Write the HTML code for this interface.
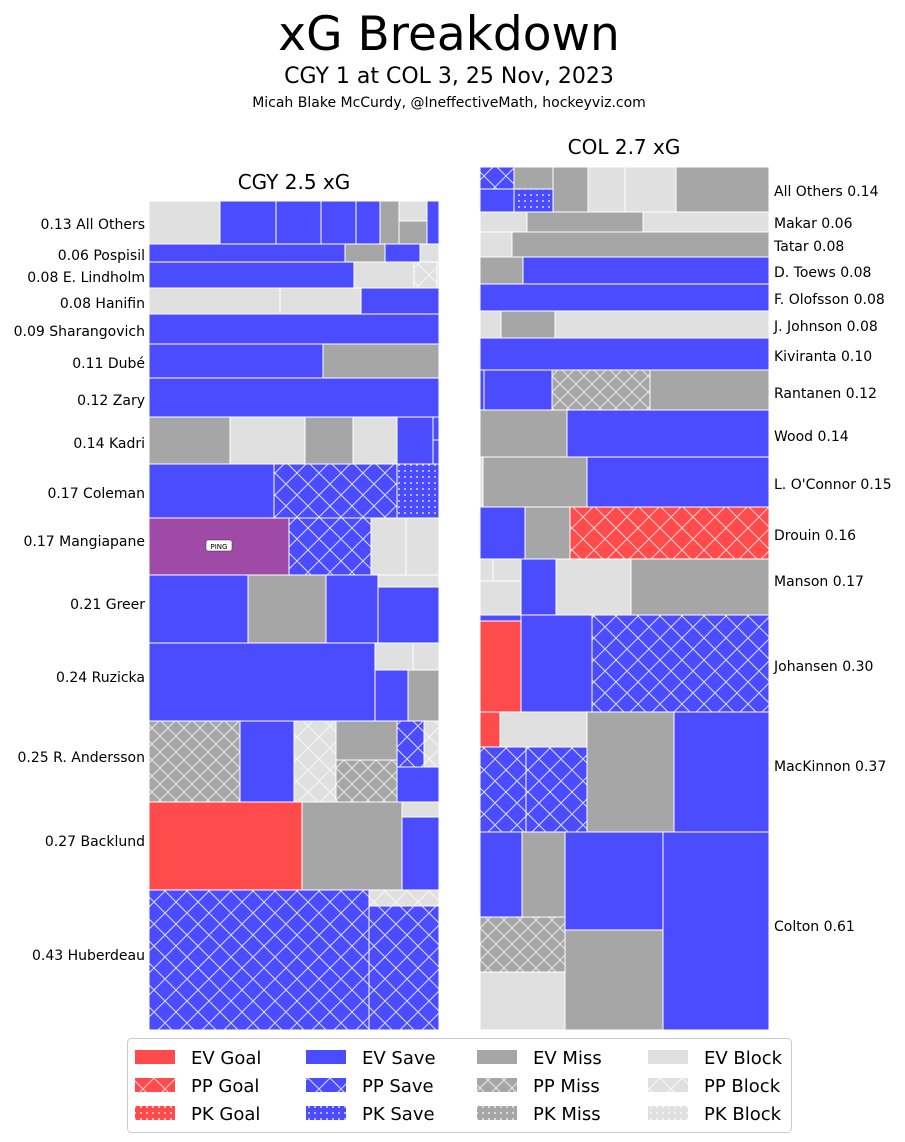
<!DOCTYPE html>
<html><head><meta charset="utf-8"><style>
html,body{margin:0;padding:0;background:#fff}
svg{display:block;font-family:"DejaVu Sans","Liberation Sans",sans-serif}
</style></head><body>
<svg id="s" width="905" height="1142" viewBox="0 0 905 1142" xmlns="http://www.w3.org/2000/svg">
<defs>
<pattern id="ppB" width="22" height="22" patternUnits="userSpaceOnUse"><rect width="22" height="22" fill="#4b4bff"/><path d="M0 0L22 22M22 0L0 22" stroke="#dcdcff" stroke-width="1"/></pattern>
<pattern id="ppR" width="22" height="22" patternUnits="userSpaceOnUse"><rect width="22" height="22" fill="#ff4b4b"/><path d="M0 0L22 22M22 0L0 22" stroke="#ffd0d0" stroke-width="1"/></pattern>
<pattern id="ppG" width="16" height="16" patternUnits="userSpaceOnUse"><rect width="16" height="16" fill="#a6a6a6"/><path d="M0 0L16 16M16 0L0 16" stroke="#e0e0e0" stroke-width="1.2"/></pattern>
<pattern id="ppL" width="22" height="22" patternUnits="userSpaceOnUse"><rect width="22" height="22" fill="#e0e0e0"/><path d="M0 0L22 22M22 0L0 22" stroke="#f4f4f4" stroke-width="1.2"/></pattern>
<pattern id="pkB" width="6" height="6" patternUnits="userSpaceOnUse"><rect width="6" height="6" fill="#4b4bff"/><circle cx="3" cy="3" r="0.9" fill="#fff"/></pattern>
<pattern id="pkR" width="6" height="6" patternUnits="userSpaceOnUse"><rect width="6" height="6" fill="#ff4b4b"/><circle cx="3" cy="3" r="0.9" fill="#fff"/></pattern>
<pattern id="pkG" width="6" height="6" patternUnits="userSpaceOnUse"><rect width="6" height="6" fill="#a6a6a6"/><circle cx="3" cy="3" r="0.9" fill="#fff"/></pattern>
<pattern id="pkL" width="6" height="6" patternUnits="userSpaceOnUse"><rect width="6" height="6" fill="#e0e0e0"/><circle cx="3" cy="3" r="0.9" fill="#fff"/></pattern>
</defs>
<text x="449" y="50" font-size="47" text-anchor="middle">xG Breakdown</text>
<text x="449" y="83" font-size="22" text-anchor="middle">CGY 1 at COL 3, 25 Nov, 2023</text>
<text x="449" y="107" font-size="14" text-anchor="middle">Micah Blake McCurdy, @IneffectiveMath, hockeyviz.com</text>
<text x="294" y="189" font-size="20" text-anchor="middle">CGY 2.5 xG</text>
<text x="624" y="154" font-size="20" text-anchor="middle">COL 2.7 xG</text>
<g id="cells" stroke="#fff" stroke-width="1"></g>
<g id="labs" font-size="14"></g>
<rect x="127.5" y="1038.5" width="664" height="94" rx="4" fill="#fff" stroke="#ccc"/>
<g id="leg" font-size="18"></g>
</svg>
<script>
var C={B:"#4b4bff",R:"#ff4b4b",G:"#a6a6a6",L:"#e0e0e0",P:"#a04aa8",b:"url(#ppB)",r:"url(#ppR)",g:"url(#ppG)",l:"url(#ppL)",k:"url(#pkB)",kr:"url(#pkR)",kg:"url(#pkG)",kl:"url(#pkL)"};
var cells=[
["L",149,201,220,244],["B",220,201,276,244],["B",276,201,321,244],["B",321,201,356,244],["B",356,201,380,244],["G",380,201,399,244],["L",399,201,427,221],["G",399,221,427,244],["B",427,201,439,244],
["B",149,244,345,262],["G",345,244,385,262],["B",385,244,420,262],["L",420,244,439,262],
["B",149,262,354,288],["L",354,262,414,288],["l",414,262,437,288],["L",437,262,439,288],
["L",149,288,280,314],["L",280,288,361,314],["B",361,288,439,314],
["B",149,314,439,344],
["B",149,344,323,378],["G",323,344,439,378],
["B",149,378,439,417],
["G",149,417,230,464],["L",230,417,305,464],["G",305,417,353,464],["L",353,417,397,464],["B",397,417,433,464],["B",433,417,439,440],["B",433,440,439,464],
["B",149,464,274,518],["b",274,464,397,518],["k",397,464,439,518],
["P",149,518,289,575],["b",289,518,371,575],["L",371,518,406,575],["L",406,518,439,575],
["B",149,575,248,643],["G",248,575,326,643],["B",326,575,378,643],["L",378,575,439,587],["B",378,587,439,643],
["B",149,643,375,721],["L",375,643,413,670],["L",413,643,439,670],["B",375,670,408,721],["G",408,670,439,721],
["g",149,721,240,802],["B",240,721,294,802],["l",294,721,336,802],["G",336,721,397,760],["g",336,760,397,802],["b",397,721,424,767],["l",424,721,439,767],["B",397,767,439,802],
["R",149,802,302,890],["G",302,802,402,890],["L",402,802,439,817],["B",402,817,439,890],
["b",149,890,369,1030],["l",369,890,439,906],["b",369,906,439,1030],
["b",480,167,514,189],["B",480,189,514,212],["G",514,167,553,189],["k",514,189,553,212],["G",553,167,588,212],["L",588,167,625,212],["L",625,167,676,212],["G",676,167,769,212],
["L",480,212,527,232],["G",527,212,643,232],["L",643,212,769,232],
["L",480,232,512,257],["G",512,232,769,257],
["G",480,257,523,284],["B",523,257,769,284],
["B",480,284,769,311],
["L",480,311,501,338],["G",501,311,555,338],["L",555,311,769,338],
["B",480,338,769,370],
["B",480,370,484,410],["B",484,370,552,410],["g",552,370,650,410],["G",650,370,769,410],
["G",480,410,567,457],["B",567,410,769,457],
["L",480,457,483,507],["G",483,457,587,507],["B",587,457,769,507],
["B",480,507,525,559],["G",525,507,570,559],["r",570,507,769,559],
["L",480,559,493,581],["L",493,559,521,581],["L",480,581,521,615],["B",521,559,556,615],["L",556,559,631,615],["G",631,559,769,615],
["B",480,615,521,621],["R",480,621,521,712],["B",521,615,592,712],["b",592,615,769,712],
["R",480,712,500,747],["L",500,712,587,747],["b",480,747,526,832],["b",526,747,587,832],["G",587,712,674,832],["B",674,712,769,832],
["B",480,832,522,917],["G",522,832,565,917],["g",480,917,565,972],["L",480,972,565,1030],["B",565,832,663,930],["G",565,930,663,1030],["B",663,832,769,1030]
];
var ns="http://www.w3.org/2000/svg",g=document.getElementById("cells");
function el(t,a,p){var e=document.createElementNS(ns,t);for(var k in a)e.setAttribute(k,a[k]);p.appendChild(e);return e;}
cells.forEach(function(c){el("rect",{x:c[1],y:c[2],width:c[3]-c[1],height:c[4]-c[2],fill:C[c[0]]},g);});
var pg=el("g",{},g);
el("rect",{x:206,y:540,width:26,height:11,rx:2,fill:"#fff",stroke:"#333","stroke-width":0.5},pg);
var t=el("text",{x:219,y:549,"font-size":7,"text-anchor":"middle",stroke:"none"},pg);t.textContent="PING";
var L=document.getElementById("labs");
[["0.13 All Others",224],["0.06 Pospisil",255],["0.08 E. Lindholm",277],["0.08 Hanifin",303],["0.09 Sharangovich",331],["0.11 Dubé",363],["0.12 Zary",400],["0.14 Kadri",443],["0.17 Coleman",493],["0.17 Mangiapane",541],["0.21 Greer",604],["0.24 Ruzicka",677],["0.25 R. Andersson",757],["0.27 Backlund",841],["0.43 Huberdeau",955]].forEach(function(a){var e=el("text",{x:145,y:a[1]+5,"text-anchor":"end"},L);e.textContent=a[0];});
[["All Others 0.14",191],["Makar 0.06",223],["Tatar 0.08",246],["D. Toews 0.08",272],["F. Olofsson 0.08",299],["J. Johnson 0.08",326],["Kiviranta 0.10",356],["Rantanen 0.12",393],["Wood 0.14",436],["L. O'Connor 0.15",484],["Drouin 0.16",535],["Manson 0.17",581],["Johansen 0.30",666],["MacKinnon 0.37",766],["Colton 0.61",926]].forEach(function(a){var e=el("text",{x:774,y:a[1]+5},L);e.textContent=a[0];});
var G=document.getElementById("leg");
var cols=[["R","r","kr","Goal"],["B","b","k","Save"],["G","g","kg","Miss"],["L","l","kl","Block"]],xs=[135,306,477,648],ys=[1057,1085,1113],pre=["EV","PP","PK"];
cols.forEach(function(c,i){for(var j=0;j<3;j++){el("rect",{x:xs[i],y:ys[j]-7,width:40,height:14,fill:C[c[j]]},G);var e=el("text",{x:xs[i]+56,y:ys[j]+7},G);e.textContent=pre[j]+" "+c[3];}});
</script>
</body></html>
